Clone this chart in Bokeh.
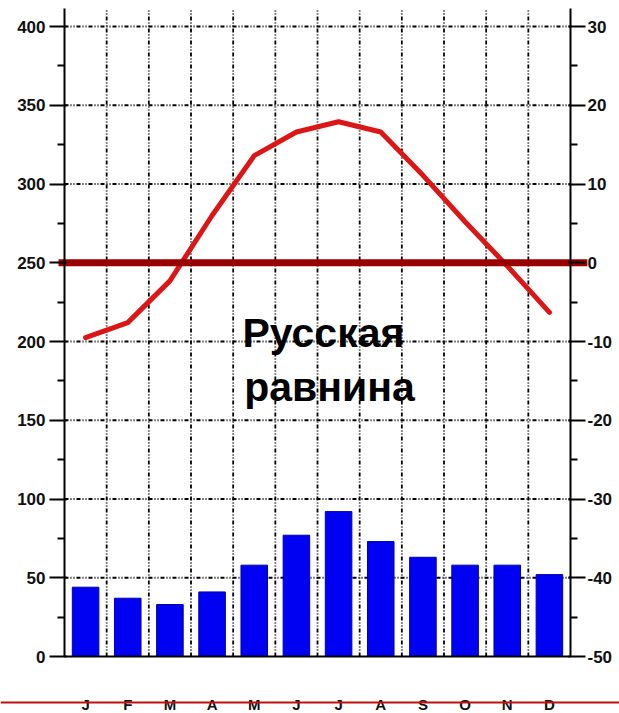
from bokeh.plotting import figure
from bokeh.models import Range1d, LinearAxis, FixedTicker, ColumnDataSource
from bokeh.core.properties import value
from bokeh.embed import file_html
from bokeh.resources import INLINE

# ---- data ----
months = ["J", "F", "M", "A", "M", "J", "J", "A", "S", "O", "N", "D"]
precip = [44, 37, 33, 41, 58, 77, 92, 73, 63, 58, 58, 52]          # mm
temp = [-9.5, -7.6, -2.3, 6.0, 13.6, 16.6, 17.9, 16.6, 11.1, 5.2, -0.4, -6.3]  # deg C
p_ticks = [0, 50, 100, 150, 200, 250, 300, 350, 400]
p_minor = [25, 75, 125, 175, 225, 275, 325, 375]
t_ticks = [-50, -40, -30, -20, -10, 0, 10, 20, 30]
t_minor = [-45, -35, -25, -15, -5, 5, 15, 25]
title_lines = ["Русская", "равнина"]

# temperature scale: T = (P - 250) / 5
T0_P = 250.0
P_PER_T = 5.0

# ---- layout constants (data units of the full-canvas frame) ----
N = len(months)
X_LO, X_HI = -1.5178, 13.162      # canvas edges
Y_LO, Y_HI = -36.19, 416.51       # canvas edges
AX_TOP = 411.43                   # top end of the axes / vertical grid
FONT = "Liberation Sans"

def to_t(pv):
    return (pv - T0_P) / P_PER_T

x_centers = [i + 0.5 for i in range(N)]
src = ColumnDataSource(dict(x=x_centers, p=precip, t=temp, m=months))

p = figure(width=619, height=713, x_range=Range1d(X_LO, X_HI),
           y_range=Range1d(Y_LO, Y_HI), output_backend="svg",
           toolbar_location=None, x_axis_location=None, y_axis_location=None,
           min_border=0)
p.outline_line_color = None
p.background_fill_color = "white"
p.border_fill_color = "white"
p.xgrid.visible = False
p.ygrid.visible = False

p.extra_y_ranges = {"temp": Range1d(to_t(Y_LO), to_t(Y_HI))}

# grid
dash = "4 2 1 2 1 2"
hgrid = [v for v in p_ticks if v > 0]
p.segment(x0=[0] * len(hgrid), x1=[N] * len(hgrid), y0=hgrid, y1=hgrid,
          line_color="black", line_width=1.8, line_dash=dash)
vgrid = list(range(1, N))
p.segment(x0=vgrid, x1=vgrid, y0=[0] * len(vgrid), y1=[AX_TOP] * len(vgrid),
          line_color="black", line_width=1.8, line_dash=dash)

# precipitation bars
p.vbar(x="x", top="p", bottom=0, width=0.63, source=src,
       fill_color="#0000f2", line_color="#0000a8", line_width=1)

# x axis line
p.segment(x0=[0], x1=[N], y0=[0], y1=[0], line_color="black", line_width=2)

# left axis (at x = 0) and right axis (at x = N)
la = LinearAxis(ticker=FixedTicker(ticks=p_ticks, minor_ticks=p_minor),
                bounds=(0, AX_TOP), fixed_location=0)
ra = LinearAxis(y_range_name="temp",
                ticker=FixedTicker(ticks=t_ticks, minor_ticks=t_minor),
                bounds=(to_t(0), to_t(AX_TOP)), fixed_location=N)
ra.major_label_overrides = {t: str(t) for t in t_ticks}
for ax, so in ((la, 4), (ra, 2)):
    ax.axis_line_width = 2
    ax.axis_line_color = "black"
    ax.major_tick_line_width = 2
    ax.minor_tick_line_width = 2
    ax.major_tick_out = 15
    ax.major_tick_in = 2
    ax.minor_tick_out = 7
    ax.minor_tick_in = 0
    ax.major_label_text_font = FONT
    ax.major_label_text_font_style = "bold"
    ax.major_label_text_font_size = "17px"
    ax.major_label_text_color = "#111111"
    ax.major_label_standoff = so
p.add_layout(la, "left")
p.add_layout(ra, "right")

# temperature curve
p.line(x="x", y="t", source=src, y_range_name="temp",
       line_color="#dc1616", line_width=5, line_join="round", line_cap="round")

# 0 deg line (extends a bit past the axes)
p.segment(x0=[-0.142], x1=[12.40], y0=[0], y1=[0], y_range_name="temp",
          line_color="#990000", line_width=7)

# month labels
p.text(x="x", y=-30.3, text="m", source=src, text_align="center",
       text_baseline="alphabetic", text_font=value(FONT), text_font_style="bold",
       text_font_size="15px", text_color="#111111")

# bottom red rule (drawn over the labels, as in the original)
p.segment(x0=[X_LO], x1=[X_HI], y0=[-29.2], y1=[-29.2],
          line_color="#c01010", line_width=2)

# title text
p.text(x=[4.22, 4.26], y=[205.7, 171.4], text=title_lines, text_align="left",
       text_baseline="alphabetic", text_font=value(FONT), text_font_style="bold",
       text_font_size="41px", text_color="black")

open("out.html", "w").write(file_html(p, INLINE))
